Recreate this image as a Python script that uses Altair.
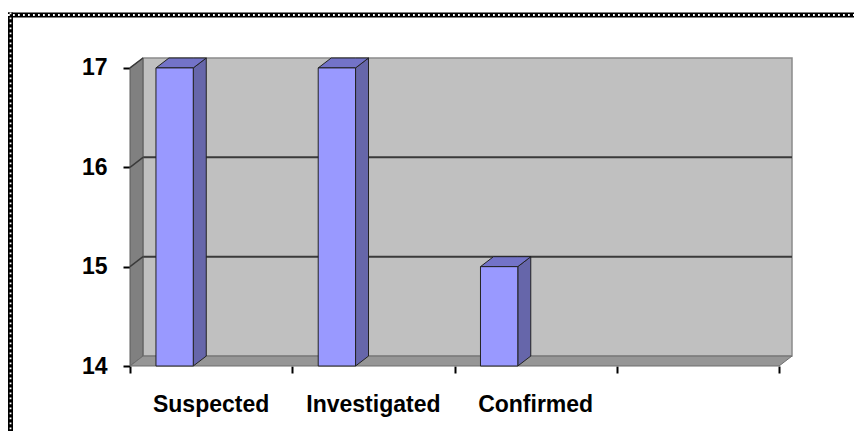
import altair as alt
import pandas as pd

# ---- data ----
categories = ["Suspected", "Investigated", "Confirmed", ""]
values = [17, 17, 15, None]
y_ticks = [14, 15, 16, 17]
x_ticks = [0, 1, 2, 3, 4]

# ---- 3D look parameters (in data units) ----
Y0, YTOP = 14, 17
DX, DY = 0.08, 0.1          # depth offset
BAR_L, BAR_R = 0.16, 0.39   # bar front face inside its slot
XMAX = len(categories) + DX
FONT = "Liberation Sans"

xs = alt.Scale(domain=[0, XMAX], nice=False, zero=False)
ys = alt.Scale(domain=[Y0, YTOP + DY], nice=False, zero=False)

# back wall
back = pd.DataFrame([{"x": DX, "x2": XMAX, "y": Y0 + DY, "y2": YTOP + DY}])
back_l = alt.Chart(back).mark_rect(fill="#C0C0C0", stroke="#8a8a8a", strokeWidth=1.5).encode(
    x=alt.X("x:Q", scale=xs, axis=alt.Axis(values=x_ticks, labels=False, domain=False, grid=False,
                                           tickSize=7, tickWidth=2, tickColor="black", title=None)),
    x2="x2", y=alt.Y("y:Q", scale=ys, axis=alt.Axis(values=y_ticks, format="d", domain=False, grid=False,
                                                   tickSize=7, tickWidth=2, tickColor="black",
                                                   labelFont=FONT, labelFontSize=23, labelFontWeight="bold",
                                                   labelColor="black", labelPadding=16, title=None)),
    y2="y2")

# gridlines on back wall
grid = pd.DataFrame([{"x": DX, "x2": XMAX, "y": v + DY} for v in y_ticks[1:-1]])
grid_l = alt.Chart(grid).mark_rule(color="#3a3a3a", strokeWidth=2).encode(
    x=alt.X("x:Q", scale=xs), x2="x2", y=alt.Y("y:Q", scale=ys))

# left wall
lw = pd.DataFrame([{"x": 0, "y": Y0, "y2": YTOP}, {"x": DX, "y": Y0 + DY, "y2": YTOP + DY}])
lw_l = alt.Chart(lw).mark_area(fill="#808080", stroke="#5a5a5a", strokeWidth=1, line=False).encode(
    x=alt.X("x:Q", scale=xs), y=alt.Y("y:Q", scale=ys), y2="y2")

# slanted grid pieces on left wall
slant = pd.DataFrame([{"k": v, "x": x, "y": v + d} for v in y_ticks[1:] for x, d in [(0, 0), (DX, DY)]])
slant_l = alt.Chart(slant).mark_line(color="#3a3a3a", strokeWidth=1.5).encode(
    x=alt.X("x:Q", scale=xs), y=alt.Y("y:Q", scale=ys), detail="k:N")

# floor
n = len(categories)
fl = pd.DataFrame([
    {"x": 0, "y": Y0, "y2": Y0},
    {"x": DX, "y": Y0, "y2": Y0 + DY},
    {"x": n, "y": Y0, "y2": Y0 + DY},
    {"x": n + DX, "y": Y0 + DY, "y2": Y0 + DY},
])
fl_l = alt.Chart(fl).mark_area(fill="#969696", stroke="#6e6e6e", strokeWidth=1).encode(
    x=alt.X("x:Q", scale=xs), y=alt.Y("y:Q", scale=ys), y2="y2")

# bars
front_rows, side_rows, top_rows = [], [], []
for i, (c, v) in enumerate(zip(categories, values)):
    if v is None:
        continue
    L, R = i + BAR_L, i + BAR_R
    front_rows.append({"cat": c, "x": L, "x2": R, "y": Y0, "y2": v})
    side_rows += [{"cat": c, "x": R, "y": Y0, "y2": v},
                  {"cat": c, "x": R + DX, "y": Y0 + DY, "y2": v + DY}]
    top_rows += [{"cat": c, "x": L, "y": v, "y2": v},
                 {"cat": c, "x": L + DX, "y": v, "y2": v + DY},
                 {"cat": c, "x": R, "y": v, "y2": v + DY},
                 {"cat": c, "x": R + DX, "y": v + DY, "y2": v + DY}]

front_l = alt.Chart(pd.DataFrame(front_rows)).mark_rect(fill="#9999FF", stroke="#222", strokeWidth=1).encode(
    x=alt.X("x:Q", scale=xs), x2="x2", y=alt.Y("y:Q", scale=ys), y2="y2")
side_l = alt.Chart(pd.DataFrame(side_rows)).mark_area(fill="#6666AA", stroke="#222", strokeWidth=1).encode(
    x=alt.X("x:Q", scale=xs), y=alt.Y("y:Q", scale=ys), y2="y2", detail="cat:N")
top_l = alt.Chart(pd.DataFrame(top_rows)).mark_area(fill="#7373C8", stroke="#222", strokeWidth=1).encode(
    x=alt.X("x:Q", scale=xs), y=alt.Y("y:Q", scale=ys), y2="y2", detail="cat:N")

# category labels
lab = pd.DataFrame([{"cat": c, "x": i + 0.5, "y": Y0} for i, c in enumerate(categories) if c])
lab_l = alt.Chart(lab).mark_text(font=FONT, fontSize=23, fontWeight="bold", color="black",
                                 baseline="alphabetic", dy=46).encode(
    x=alt.X("x:Q", scale=xs), y=alt.Y("y:Q", scale=ys), text="cat:N")

# dotted page frame (decoration)
one = alt.Data(values=[{"k": 1}])
def frame(color, width, dash=None, **enc):
    kw = dict(color=color, strokeWidth=width)
    if dash:
        kw["strokeDash"] = dash
    return alt.Chart(one).mark_rule(**kw).encode(**enc)

top_enc = dict(x=alt.value(-122), x2=alt.value(724), y=alt.value(-43))
left_enc = dict(x=alt.value(-119.5), y=alt.value(-45.5), y2=alt.value(373))
frames = [
    frame("black", 5, **top_enc), frame("black", 5, **left_enc),
    frame("white", 1.8, [1.8, 3.2], **top_enc), frame("white", 1.8, [1.8, 3.2], **left_enc),
]

chart = alt.layer(
    back_l, grid_l, lw_l, slant_l, fl_l, side_l, top_l, front_l, lab_l, *frames
).properties(
    width=662, height=308,
    autosize=alt.AutoSizeParams(type="none"),
    padding={"left": 122, "top": 50, "right": 62, "bottom": 65},
    background="white",
).configure_view(strokeWidth=0)

chart.save("out.html", embed_options={"renderer": "svg", "actions": False})
